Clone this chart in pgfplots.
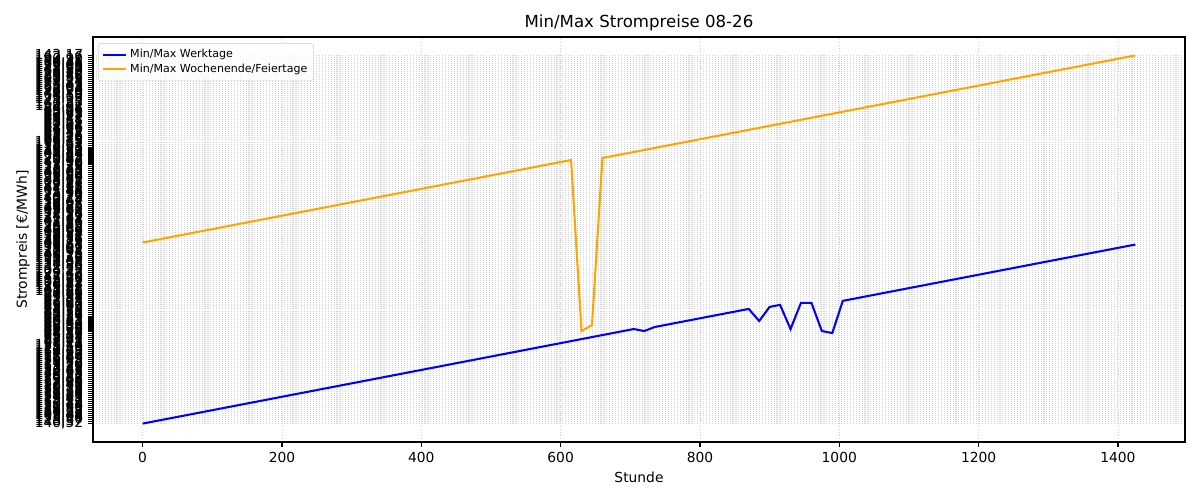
\documentclass[border=0pt]{standalone}
\usepackage{fontspec}
\setmainfont{DejaVu Sans}
\usepackage{pgfplots}
\pgfplotsset{compat=1.18}
\definecolor{mplorange}{RGB}{255,165,0}
\definecolor{mplblue}{RGB}{0,0,255}
\definecolor{gridgray}{RGB}{212,212,212}
\begin{document}
\begin{tikzpicture}
\begin{axis}[
  at={(0,0)}, anchor=south west,
  scale only axis, width=10.92in, height=4.05in,
  xmin=-71.25, xmax=1496.25, ymin=-9.15, ymax=192.15,
  xtick={0,200,...,1400},
  ytick={0,1,...,183},
  yticklabels={
  {140,52},{118,37},{125,80},{133,06},{109,41},{127,95},{114,28},{136,73},{121,60},{130,14},
  {112,89},{138,22},{119,47},{124,03},{131,58},{116,90},{128,35},{135,12},{110,76},{122,49},
  {137,81},{115,04},{129,66},{126,27},{113,53},{134,98},{120,85},{132,41},{117,19},{139,70},
  {111,32},{123,88},{136,05},{118,64},{127,20},{114,97},{130,83},{121,16},{125,59},{133,44},
  {98,17},{87,45},{93,62},{79,08},{95,31},{84,76},{91,29},{88,03},{96,54},{82,90},
  {90,47},{86,12},{94,85},{80,39},{97,26},{89,71},{83,58},{92,14},{85,93},{99,40},
  {81,67},{93,05},{87,82},{95,98},{84,21},{90,66},
  {102,35},{141,88},{119,07},{126,74},{108,52},{133,91},{115,36},{147,20},{122,63},{129,48},
  {104,17},{138,59},{111,85},{124,96},{150,32},{117,43},{131,70},{106,28},{143,15},{120,94},
  {127,61},{113,09},{136,47},{109,83},{145,72},{123,26},{130,58},{118,11},{139,34},{105,99},
  {148,66},{116,23},{125,45},{134,80},{107,37},{142,04},{121,71},{128,19},{112,56},{137,93},
  {103,62},{146,38},{119,85},{126,02},{132,67},{110,44},{140,29},{123,77},{114,90},{135,16},
  {101,83},{144,51},{117,68},{129,27},{108,95},{138,12},{122,39},{131,84},{106,60},{149,07},
  {115,73},{127,38},{133,25},{111,10},{141,96},{120,47},{125,83},{136,69},{104,54},{143,82},
  {118,30},{130,97},{112,23},{139,61},{107,75},
  {96,43},{88,70},{92,15},{85,37},{99,82},{81,29},{94,66},{87,04},{90,91},{83,55},
  {97,18},{86,42},{93,77},{80,63},{95,09},{89,26},{84,88},
  {152,41},{160,87},{147,33},{171,95},{156,12},{164,58},{149,76},{178,20},{158,64},{167,03},
  {153,49},{174,81},{161,27},{150,95},{169,36},{157,72},{176,14},{163,80},{148,57},{172,69},
  {159,08},{166,45},{154,31},{180,92},{162,16},{143,17}},
  tick align=outside, tick pos=left,
  major tick length=3.5pt,
  tick style={line width=0.8pt, black},
  axis line style={line width=0.8pt},
  grid=major,
  major grid style={gridgray, line width=0.6pt, dash pattern=on 0.8pt off 1.32pt},
  tick label style={font=\fontsize{10}{12}\selectfont},
  /pgf/number format/assume math mode=true,
  /pgf/number format/1000 sep={},
  every axis title shift=0pt,
  title={Min/Max Strompreise 08-26},
  title style={font=\fontsize{12}{14}\selectfont, at={(axis description cs:0.5,1.0346)}, anchor=center},
  xlabel={Stunde},
  xlabel style={font=\fontsize{10}{12}\selectfont, at={(axis description cs:0.5,-0.0864)}, anchor=center},
  ylabel={Strompreis [€/MWh]},
  ylabel style={font=\fontsize{10}{12}\selectfont, at={(axis description cs:-0.064,0.5)}, anchor=center},
  legend style={at={(axis description cs:0.0046,0.985)}, anchor=north west,
    draw={rgb,255:red,204;green,204;blue,204}, rounded corners=2pt,
    font=\fontsize{8}{10}\selectfont, fill=white, fill opacity=0.8, text opacity=1, draw opacity=1,
    inner sep=2.5pt, row sep=-1pt},
  legend cell align=left,
]
\addplot[mplblue, line width=1.5pt] coordinates {
 (0,0) (705,47) (720,46) (735,48) (870,57) (885,51) (900,58) (915,59) (930,47)
 (945,60) (960,60) (975,46) (990,45) (1005,61) (1425,89)};
\addlegendentry{Min/Max Werktage}
\addplot[mplorange, line width=1.5pt] coordinates {
 (0,90) (615,131) (630,46) (645,49) (660,132) (1425,183)};
\addlegendentry{Min/Max Wochenende/Feiertage}
\end{axis}
\pgfresetboundingbox
\useasboundingbox (-0.93in,-0.58in) rectangle (11.07in,4.42in);
\end{tikzpicture}
\end{document}
